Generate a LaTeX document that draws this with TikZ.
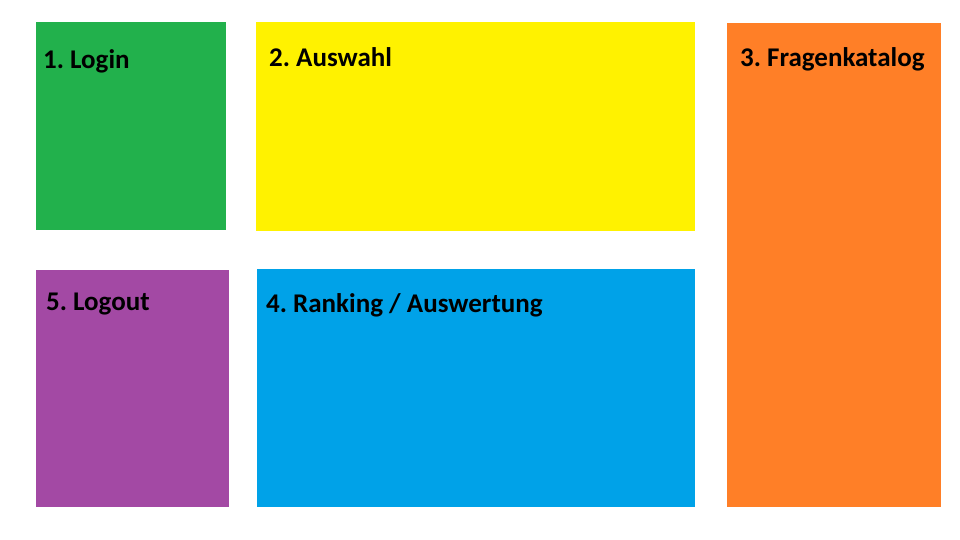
\documentclass[tikz,border=0pt]{standalone}
\usepackage{fontspec}
\setmainfont{Carlito}
\definecolor{cgreen}{HTML}{22B14C}
\definecolor{cyellow}{HTML}{FFF200}
\definecolor{corange}{HTML}{FF7F27}
\definecolor{cpurple}{HTML}{A349A4}
\definecolor{cblue}{HTML}{00A2E8}
\begin{document}
\frenchspacing
\begin{tikzpicture}[x=1pt,y=-1pt,
  tile/.style={draw=none,inner sep=0pt,outer sep=0pt},
  lbl/.style={anchor=base west,inner sep=0pt,font=\fontsize{27}{30}\selectfont\bfseries}]
\useasboundingbox (0,0) rectangle (960,540);
\fill[white] (0,0) rectangle (960,540);
\fill[cgreen] (36,22) rectangle (226,230) coordinate (login);
\fill[cyellow] (256,22) rectangle (695,231) coordinate (auswahl);
\fill[corange] (727,23) rectangle (941,507) coordinate (fragen);
\fill[cpurple] (36,270) rectangle (229,507) coordinate (logout);
\fill[cblue] (257,269) rectangle (695,507) coordinate (ranking);
\node[lbl] (t1) at (43,68.5) {1. Login};
\node[lbl] (t2) at (269,66.5) {2. Auswahl};
\node[lbl] (t3) at (740,66.5) {3. Fragenkatalog};
\node[lbl] (t5) at (46,310) {5. Logout};
\node[lbl] (t4) at (266,312.5) {4. Ranking / Auswertung};
\end{tikzpicture}
\end{document}
